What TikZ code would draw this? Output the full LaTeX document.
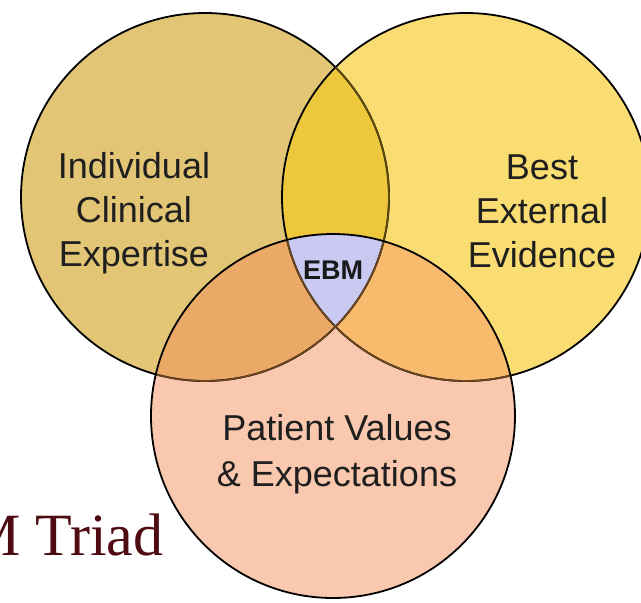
\documentclass[tikz,border=0pt]{standalone}
\usepackage{fontspec}
\setmainfont{Liberation Sans}
\newfontfamily\triadfont{Liberation Serif}
\definecolor{tanC}{HTML}{E2C675}
\definecolor{yelC}{HTML}{FADD72}
\definecolor{pinkC}{HTML}{F9C8AE}
\definecolor{goldC}{HTML}{EEC83C}
\definecolor{orgL}{HTML}{EBA968}
\definecolor{orgR}{HTML}{F8BA6C}
\definecolor{lavC}{HTML}{C9C9F2}
\definecolor{innerB}{HTML}{6B4520}
\definecolor{oliveB}{HTML}{5C4A10}
\definecolor{maroon}{HTML}{4E0C12}
\begin{document}
\begin{tikzpicture}[x=1pt,y=-1pt,
  lbl/.style={font=\fontsize{36}{44}\selectfont, align=center, text=black!88, inner sep=0},
  outline/.style={draw=black, line width=1.8pt},
  innerline/.style={draw=innerB, line width=1.6pt}]
\useasboundingbox (0,0) rectangle (641,603);
\clip (0,0) rectangle (641,603);
\coordinate (L) at (205,197);
\coordinate (R) at (466,197);
\coordinate (B) at (333,416);
% base fills
\fill[tanC] (L) circle (184);
\fill[yelC] (R) circle (184);
\fill[pinkC] (B) circle (182);
% pairwise overlaps
\begin{scope}
  \clip (L) circle (184);
  \fill[goldC] (R) circle (184);
  \fill[orgL] (B) circle (182);
\end{scope}
\begin{scope}
  \clip (R) circle (184);
  \fill[orgR] (B) circle (182);
\end{scope}
\begin{scope}
  \clip (L) circle (184);
  \clip (R) circle (184);
  \fill[lavC] (B) circle (182);
\end{scope}
% outlines
\path[outline] (L) circle (184);
\path[outline] (R) circle (184);
\begin{scope}
  \clip (R) circle (184);
  \draw[oliveB, line width=1.6pt] (L) circle (184);
\end{scope}
\begin{scope}
  \clip (B) circle (182);
  \path[innerline] (L) circle (184);
  \path[innerline] (R) circle (184);
\end{scope}
\path[outline] (B) circle (182);
% labels
\node[lbl] (ice) at (134,213) {Individual\\Clinical\\Expertise};
\node[lbl] (bee) at (542,211) {Best\\External\\Evidence};
\node[lbl, font=\fontsize{36}{46}\selectfont] (pve) at (337,454) {Patient Values\\\& Expectations};
\node[inner sep=0, font=\fontsize{27}{30}\selectfont\bfseries, text=black!90] (ebm) at (333,270) {EBM};
\node[inner sep=0, anchor=base west, font=\triadfont\fontsize{60}{66}\selectfont, text=maroon] (triad) at (-33,555) {M Triad};
\end{tikzpicture}
\end{document}
